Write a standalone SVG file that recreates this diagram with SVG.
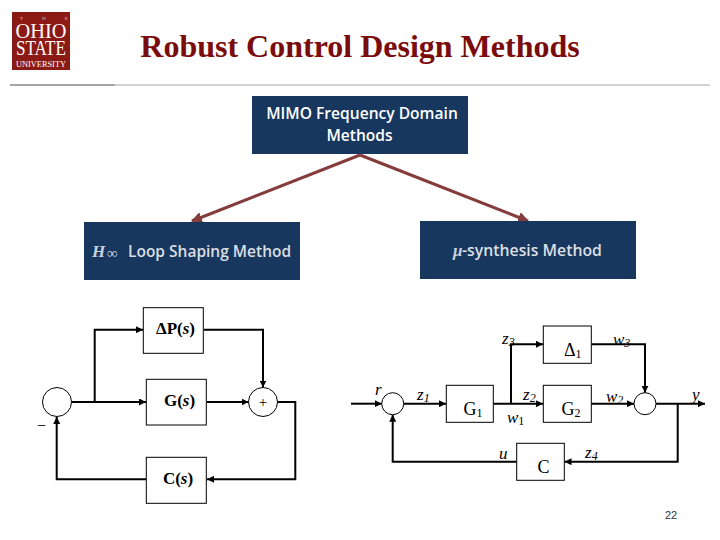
<svg xmlns="http://www.w3.org/2000/svg" width="720" height="540" viewBox="0 0 720 540">
<style>
.blk{fill:#fff;stroke:#000;stroke-width:1}
.wire{fill:none;stroke:#000;stroke-width:2}
.red{stroke:#843c3c;stroke-width:3;fill:none}
.sans{font-family:"Open Sans","Liberation Sans",sans-serif;fill:#fff;font-weight:600}
.ser{font-family:"Liberation Serif",serif;fill:#000}
.b{font-weight:bold;font-size:17px}
.i{font-style:italic;font-size:17px}
.m{font-size:18px}
.s{font-size:12px}
</style>
<defs>
<marker id="a" viewBox="0 0 7 7" refX="7" refY="3.500" markerWidth="7" markerHeight="7" markerUnits="userSpaceOnUse" orient="auto"><path d="M0 0L7 3.500L0 7z" fill="#000"/></marker>
<marker id="r" viewBox="0 0 10 10" refX="9" refY="5" markerWidth="11" markerHeight="11" markerUnits="userSpaceOnUse" orient="auto"><path d="M0 0L10 5L0 10z" fill="#843c3c"/></marker>
</defs>
<rect width="720" height="540" fill="#fff"/>
<g id="logo">
<rect x="12" y="12" width="58" height="58" fill="#8c1a14"/>
<text x="20" y="20" font-family="Liberation Serif,serif" font-size="5" letter-spacing="19" fill="#e8c8c0">THE</text>
<text x="41" y="38" text-anchor="middle" font-family="Liberation Serif,serif" font-size="22" fill="#fff" textLength="51" lengthAdjust="spacingAndGlyphs">OHIO</text>
<text x="41" y="55" text-anchor="middle" font-family="Liberation Serif,serif" font-size="22" fill="#fff" textLength="50" lengthAdjust="spacingAndGlyphs">STATE</text>
<text x="41" y="66.500" text-anchor="middle" font-family="Liberation Serif,serif" font-size="8" fill="#fff" textLength="50" lengthAdjust="spacingAndGlyphs">UNIVERSITY</text>
</g>
<text id="title" x="360" y="57" text-anchor="middle" font-family="Liberation Serif,serif" font-weight="bold" font-size="32" fill="#7a0c0c">Robust Control Design Methods</text>
<g id="rule"><path d="M10 85H710" stroke="#a6a6a6" stroke-width="1"/><path d="M10 85H115" stroke="#a6a6a6" stroke-width="2"/></g>
<g id="connectors-top">
<path class="red" d="M360 155L192 221" marker-end="url(#r)"/>
<path class="red" d="M360 155L528 221" marker-end="url(#r)"/>
</g>
<g id="mimo"><rect x="252" y="96" width="216" height="58" fill="#17375e"/>
<text class="sans" x="362" y="119" text-anchor="middle" font-size="15.600">MIMO Frequency Domain</text>
<text class="sans" x="359.500" y="141" text-anchor="middle" font-size="15.600">Methods</text></g>
<g id="hinf"><rect x="84" y="222" width="216" height="58" fill="#17375e"/>
<text x="92" y="257" font-family="Liberation Serif,serif" font-style="italic" font-weight="bold" font-size="17" fill="#c9d2de">H</text>
<text x="107" y="258" font-family="Liberation Serif,serif" font-size="15" fill="#c9d2de">∞</text>
<text class="sans" x="128" y="257" font-size="15.500" fill-opacity="0.85">Loop Shaping Method</text></g>
<g id="mu"><rect x="420" y="221" width="216" height="58" fill="#17375e"/>
<text x="453" y="256" font-family="Liberation Serif,serif" font-style="italic" font-weight="bold" font-size="17" fill="#c9d2de">μ</text>
<text class="sans" x="462" y="256" font-size="15.800" fill-opacity="0.85">-synthesis Method</text></g>
<g id="connectors-left">
<path class="wire" d="M72 402H146" marker-end="url(#a)"/>
<path class="wire" d="M94.700 402V329.700H143" marker-end="url(#a)"/>
<path class="wire" d="M204 329.700H263V387.500" marker-end="url(#a)"/>
<path class="wire" d="M207 402H248.500" marker-end="url(#a)"/>
<path class="wire" d="M278 402H295.300V479.300H207" marker-end="url(#a)"/>
<path class="wire" d="M146 479.300H56.700V417" marker-end="url(#a)"/>
</g>
<g id="sum-l"><circle cx="57" cy="402" r="14.500" fill="#fff" stroke="#000"/></g>
<g id="sum-plus"><circle cx="263" cy="402" r="14.500" fill="#fff" stroke="#000"/><text class="ser" x="263" y="407" text-anchor="middle" font-size="15">+</text></g>
<text class="ser" x="41.500" y="431" text-anchor="middle" font-size="16">−</text>
<g id="dp"><rect class="blk" x="143.300" y="307.700" width="60" height="45.600"/><text class="ser b" x="175.500" y="334" text-anchor="middle">ΔP(<tspan font-style="italic">s</tspan>)</text></g>
<g id="gs"><rect class="blk" x="146.300" y="379.300" width="60" height="45.700"/><text class="ser b" x="179.500" y="406" text-anchor="middle">G(<tspan font-style="italic">s</tspan>)</text></g>
<g id="cs"><rect class="blk" x="146.300" y="457.300" width="60" height="46"/><text class="ser b" x="178" y="484" text-anchor="middle">C(<tspan font-style="italic">s</tspan>)</text></g>
<g id="connectors-right">
<path class="wire" d="M351 403.700H381.700" marker-end="url(#a)"/>
<path class="wire" d="M403.700 403.700H446" marker-end="url(#a)"/>
<path class="wire" d="M493.300 403.700H543" marker-end="url(#a)"/>
<path class="wire" d="M511 403.700V344.300H543" marker-end="url(#a)"/>
<path class="wire" d="M591.300 344.300H645V392.700" marker-end="url(#a)"/>
<path class="wire" d="M591.300 403.700H634" marker-end="url(#a)"/>
<path class="wire" d="M656 403.700H705" marker-end="url(#a)"/>
<path class="wire" d="M677.700 403.700V461.700H564.500" marker-end="url(#a)"/>
<path class="wire" d="M516.700 461.700H392.700V414.700" marker-end="url(#a)"/>
</g>
<g id="sum-r1"><circle cx="392.700" cy="403.700" r="11" fill="#fff" stroke="#000"/></g>
<g id="sum-r2"><circle cx="645" cy="403.700" r="11" fill="#fff" stroke="#000"/></g>
<g id="g1"><rect class="blk" x="446.300" y="385.300" width="47" height="37"/><text class="ser m" x="463.500" y="415">G<tspan class="s" dy="2">1</tspan></text></g>
<g id="g2"><rect class="blk" x="543.300" y="385.300" width="48" height="37"/><text class="ser m" x="561.500" y="415">G<tspan class="s" dy="2">2</tspan></text></g>
<g id="d1"><rect class="blk" x="543.300" y="326" width="48" height="37.300"/><text class="ser m" x="564" y="356">Δ<tspan class="s" dy="2">1</tspan></text></g>
<g id="c"><rect class="blk" x="516.700" y="443.300" width="47.600" height="37"/><text class="ser m" x="537.500" y="473">C</text></g>
<g id="labels">
<text class="ser i" x="375" y="395">r</text>
<text class="ser i" x="417" y="400">z<tspan class="s" dy="2">1</tspan></text>
<text class="ser i" x="502" y="344">z<tspan class="s" dy="2">3</tspan></text>
<text class="ser i" x="523" y="400">z<tspan class="s" dy="2">2</tspan></text>
<text class="ser i" x="507" y="423">w<tspan class="s" font-style="normal" dy="2">1</tspan></text>
<text class="ser i" x="613" y="345">w<tspan class="s" dy="2">3</tspan></text>
<text class="ser i" x="606" y="402">w<tspan class="s" dy="2">2</tspan></text>
<text class="ser i" x="692" y="400">y</text>
<text class="ser i" x="499" y="459">u</text>
<text class="ser i" x="585" y="458">z<tspan class="s" dy="2">4</tspan></text>
</g>
<text id="page" x="671" y="519" text-anchor="middle" font-family="Liberation Sans,sans-serif" font-size="11" fill="#333">22</text>
</svg>
